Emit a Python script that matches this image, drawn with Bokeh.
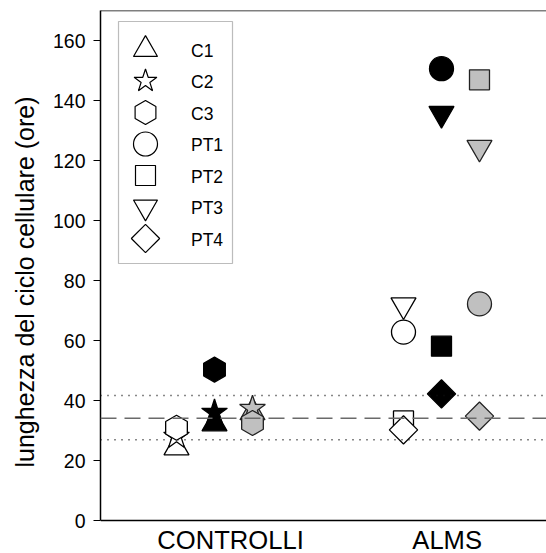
import math
from bokeh.plotting import figure
from bokeh.models import Range1d, FixedTicker, Span, Label, BoxAnnotation, ColumnDataSource
from bokeh.core.properties import value
from bokeh.embed import file_html
from bokeh.resources import INLINE

# ---------------- data ----------------
subjects = ["C1", "C2", "C3", "PT1", "PT2", "PT3", "PT4"]
subject_group = ["CONTROLLI", "CONTROLLI", "CONTROLLI", "ALMS", "ALMS", "ALMS", "ALMS"]
categories = ["CONTROLLI", "ALMS"]
white_vals = [24.3, 28.0, 30.9, 62.8, 33.2, 71.8, 30.2]
black_vals = [32.3, 36.0, 50.3, 150.6, 58.1, 135.6, 42.2]
gray_vals = [36.0, 37.3, 32.5, 72.2, 146.9, 124.3, 34.8]
ref_mean = 34.1
ref_upper = 41.7
ref_lower = 26.9
y_ticks = [0, 20, 40, 60, 80, 100, 120, 140, 160]

# ---------------- styles ----------------
FONT = "Liberation Sans"
marker_style = {
    "C1": ("triangle", 0.0, 25),
    "C2": ("star", 0.0, 27),
    "C3": ("hex", math.pi / 2, 25),
    "PT1": ("circle", 0.0, 24),
    "PT2": ("square", 0.0, 20),
    "PT3": ("inverted_triangle", 0.0, 25),
    "PT4": ("square", math.pi / 4, 20),
}
series = [
    (white_vals, "white", "black", -0.1674),
    (black_vals, "black", "black", 0.0),
    (gray_vals, "#c0c0c0", "#222222", 0.1674),
]
cat_pos = {"CONTROLLI": 1.0, "ALMS": 2.0}
cat_label_pos = {"CONTROLLI": 1.0705, "ALMS": 2.025}

X0, X1 = 0.4978, 2.4626
Y_MIN, Y_MAX = 0, 170
PX_PER_X = 227.0
PX_PER_Y = 3.0
FRAME_LEFT, AXIS_BOTTOM = 100, 520


def px_to_x(px):
    return X0 + (px - FRAME_LEFT) / PX_PER_X


def px_to_y(py):
    return (AXIS_BOTTOM - py) / PX_PER_Y


# frame runs to the bottom of the canvas so the category names can sit inside it
p = figure(width=546, height=553, output_backend="svg", toolbar_location=None,
           x_range=Range1d(X0, X1), y_range=Range1d(px_to_y(553), Y_MAX),
           min_border_left=100, min_border_right=0, min_border_top=10, min_border_bottom=0)
p.outline_line_color = None
p.grid.visible = False
p.background_fill_color = "white"
p.border_fill_color = "white"
p.xaxis.visible = False

# y axis
p.yaxis.bounds = (Y_MIN, Y_MAX)
p.yaxis.ticker = FixedTicker(ticks=y_ticks)
p.yaxis.axis_line_width = 1.5
p.yaxis.axis_line_color = "black"
p.yaxis.major_tick_out = 7
p.yaxis.major_tick_in = 0
p.yaxis.major_tick_line_width = 1
p.yaxis.major_tick_line_color = "black"
p.yaxis.minor_tick_line_color = None
p.yaxis.major_label_standoff = 8
p.yaxis.major_label_text_font = FONT
p.yaxis.major_label_text_font_size = "19.5px"
p.yaxis.major_label_text_color = "black"
p.yaxis.axis_label = "lunghezza del ciclo cellulare (ore)"
p.yaxis.axis_label_text_font = FONT
p.yaxis.axis_label_text_font_size = "25px"
p.yaxis.axis_label_text_font_style = "normal"
p.yaxis.axis_label_text_color = "black"
p.yaxis.axis_label_standoff = 11

# x axis line (y = 0) and top frame line
p.add_layout(Span(location=Y_MIN, dimension="width", line_color="black", line_width=1.5))
p.add_layout(Span(location=Y_MAX, dimension="width", line_color="black", line_width=1.5))

# reference lines
p.add_layout(Span(location=ref_upper, dimension="width", line_color="#111111",
                  line_width=1.5, line_dash="1 6"))
p.add_layout(Span(location=ref_lower, dimension="width", line_color="#111111",
                  line_width=1.5, line_dash="1 6"))
p.add_layout(Span(location=ref_mean, dimension="width", line_color="#6a6a6a",
                  line_width=1.5, line_dash="16 8"))

# data points
for vals, fill, line, off in series:
    src = ColumnDataSource(dict(
        x=[cat_pos[g] + off for g in subject_group],
        y=vals,
        marker=[marker_style[s][0] for s in subjects],
        angle=[marker_style[s][1] for s in subjects],
        size=[marker_style[s][2] for s in subjects],
    ))
    p.scatter(x="x", y="y", marker="marker", angle="angle", size="size", source=src,
              fill_color=fill, line_color=line, line_width=1.3)

# category names below the x axis line
for cat in categories:
    p.add_layout(Label(x=cat_label_pos[cat], y=px_to_y(539), x_units="data", y_units="data",
                       text=cat, text_align="center", text_baseline="alphabetic",
                       text_font=FONT, text_font_size="25.6px", text_color="black"))

# legend (manual, to match the large symbols)
p.add_layout(BoxAnnotation(left=px_to_x(118), right=px_to_x(232),
                           top=px_to_y(21), bottom=px_to_y(263),
                           fill_color="white", fill_alpha=1.0,
                           line_color="#222222", line_width=1.2, level="underlay"))
row_px = [49 + 31.5 * i for i in range(len(subjects))]
leg_src = ColumnDataSource(dict(
    x=[px_to_x(145)] * len(subjects),
    y=[px_to_y(r) for r in row_px],
    marker=[marker_style[s][0] for s in subjects],
    angle=[marker_style[s][1] for s in subjects],
    size=[min(marker_style[s][2], 24) for s in subjects],
))
p.scatter(x="x", y="y", marker="marker", angle="angle", size="size", source=leg_src,
          fill_color="white", line_color="black", line_width=1.2)
p.text(x=[px_to_x(190.5)] * len(subjects), y=[px_to_y(r + 1) for r in row_px], text=subjects,
       text_font=value(FONT), text_font_size=value("17.5px"), text_baseline="middle",
       text_align="left", text_color="black")

open("out.html", "w").write(file_html(p, INLINE))
